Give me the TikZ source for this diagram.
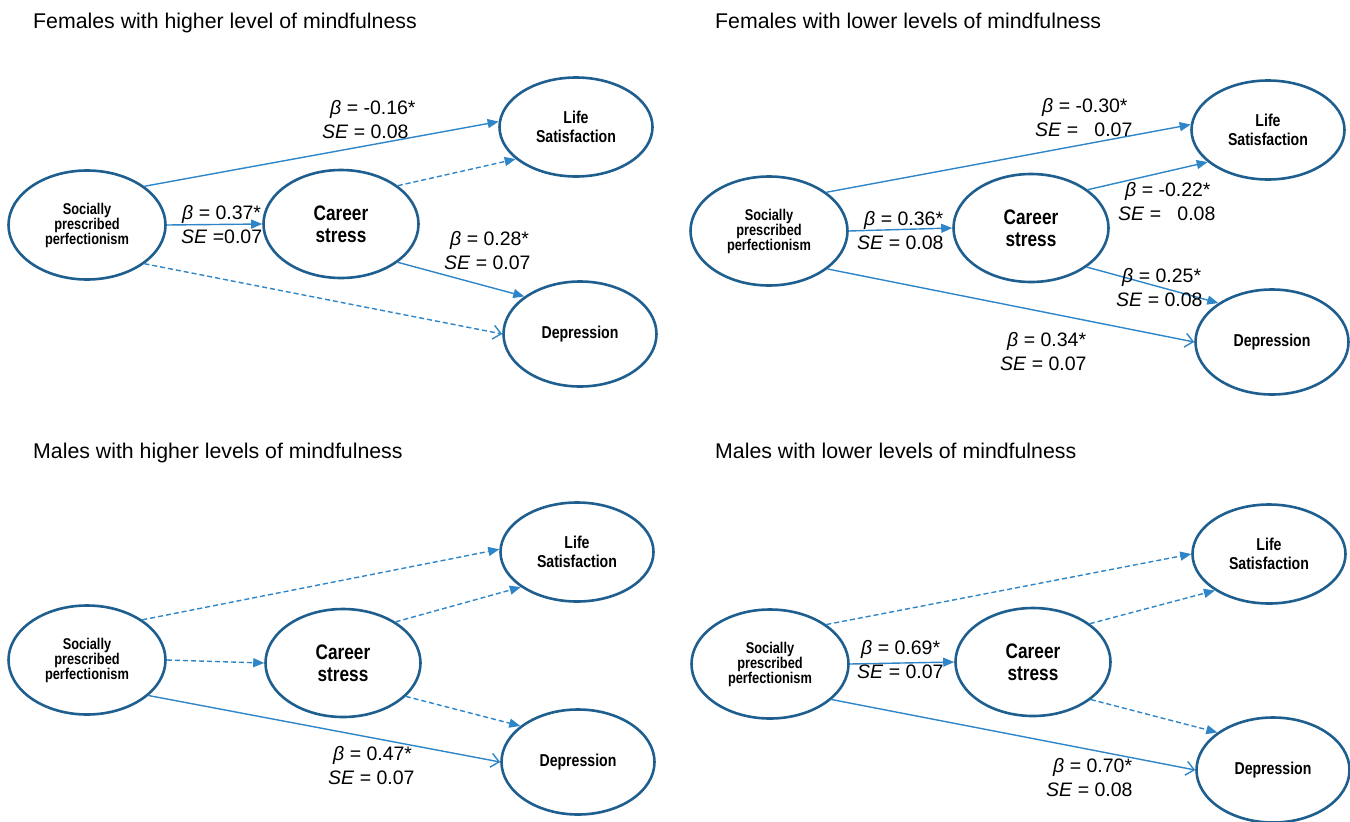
\documentclass[tikz,border=0pt]{standalone}
\usepackage{fontspec}
\setmainfont{Liberation Sans}
\newfontfamily\nf[FakeStretch=0.82]{Liberation Sans}
\usetikzlibrary{shapes.geometric,arrows.meta}
\definecolor{ellc}{HTML}{1F5F8F}
\definecolor{arrc}{HTML}{2E86C8}
\tikzset{
  ell/.style={ellipse, draw=ellc, line width=2.6pt, inner sep=0pt, align=center, text=black},
  sppn/.style={ell, minimum width=157pt, minimum height=109pt, font=\nf\bfseries\fontsize{15.6}{15}\selectfont},
  csn/.style={ell, minimum width=155pt, minimum height=108pt, font=\nf\bfseries\fontsize{21}{22}\selectfont},
  lsn/.style={ell, minimum width=153pt, minimum height=99pt, font=\nf\bfseries\fontsize{17.2}{19}\selectfont},
  depn/.style={ell, minimum width=153pt, minimum height=105pt, font=\nf\bfseries\fontsize{17.2}{19}\selectfont},
  solidarr/.style={draw=arrc, line width=1.4pt, -{Triangle[length=11pt,width=9pt]}},
  dasharr/.style={solidarr, dash pattern=on 5pt off 3pt},
  openarr/.style={draw=arrc, line width=1.4pt, -{Straight Barb[length=8pt,width=14pt]}},
  opendash/.style={openarr, dash pattern=on 5pt off 3pt},
  lab/.style={anchor=west, align=left, font=\fontsize{19.5}{24}\selectfont, inner sep=0pt},
  ttl/.style={anchor=base west, font=\fontsize{21.3}{24}\selectfont, inner sep=0pt}
}
\begin{document}
\begin{tikzpicture}[x=1pt,y=-1pt]
\useasboundingbox (0,0) rectangle (1350,822);
% ---------- Panel 1 ----------
\node[ttl] (t1) at (33,28) {Females with higher level of mindfulness};
\node[sppn] (spp1) at (87,225) {Socially\\prescribed\\perfectionism};
\node[csn] (cs1) at (341,224) {Career\\stress};
\node[lsn] (ls1) at (576,127) {Life\\Satisfaction};
\node[depn] (dep1) at (580,334) {Depression};
\draw[solidarr] (spp1.34) -- (ls1.176);
\draw[dasharr] (cs1.34) -- (ls1.208);
\draw[solidarr] (spp1.east) -- (cs1.west);
\draw[solidarr] (cs1.326) -- (dep1.146);
\draw[opendash] (spp1.326) -- (dep1.180);
\node[lab] (l1a) at (322,120) {\hspace*{8pt}\textit{β} = -0.16*\\\textit{SE} = 0.08};
\node[lab] (l1b) at (181,225) {\hspace*{1pt}\textit{β} = 0.37*\\\textit{SE} =0.07};
\node[lab] (l1c) at (444,251) {\hspace*{6pt}\textit{β} = 0.28*\\\textit{SE} = 0.07};
% ---------- Panel 2 ----------
\node[ttl] (t2) at (715,28) {Females with lower levels of mindfulness};
\node[sppn] (spp2) at (769,231) {Socially\\prescribed\\perfectionism};
\node[csn] (cs2) at (1031,228) {Career\\stress};
\node[lsn] (ls2) at (1268,130) {Life\\Satisfaction};
\node[depn] (dep2) at (1272,342) {Depression};
\draw[solidarr] (spp2.34) -- (ls2.176);
\draw[solidarr] (cs2.34) -- (ls2.208);
\draw[solidarr] (spp2.east) -- (cs2.west);
\draw[solidarr] (cs2.325) -- (dep2.144);
\draw[openarr] (spp2.327) -- (dep2.180);
\node[lab] (l2a) at (1035,118) {\hspace*{7pt}\textit{β} = -0.30*\\\textit{SE} = \ \ 0.07};
\node[lab] (l2b) at (1118,202) {\hspace*{7pt}\textit{β} = -0.22*\\\textit{SE} = \ \ 0.08};
\node[lab] (l2c) at (857,231) {\hspace*{7pt}\textit{β} = 0.36*\\\textit{SE} = 0.08};
\node[lab] (l2d) at (1116,288) {\hspace*{6pt}\textit{β} = 0.25*\\\textit{SE} = 0.08};
\node[lab] (l2e) at (1000,352) {\hspace*{7pt}\textit{β} = 0.34*\\\textit{SE} = 0.07};
% ---------- Panel 3 ----------
\node[ttl] (t3) at (33,458) {Males with higher levels of mindfulness};
\node[sppn] (spp3) at (87,660) {Socially\\prescribed\\perfectionism};
\node[csn] (cs3) at (343,663) {Career\\stress};
\node[lsn] (ls3) at (577,552) {Life\\Satisfaction};
\node[depn] (dep3) at (578,762) {Depression};
\draw[dasharr] (spp3.36) -- (ls3.178);
\draw[dasharr] (cs3.38) -- (ls3.212);
\draw[dasharr] (spp3.east) -- (cs3.west);
\draw[dasharr] (cs3.332) -- (dep3.148);
\draw[openarr] (spp3.330) -- (dep3.180);
\node[lab] (l3a) at (328,766) {\hspace*{5pt}\textit{β} = 0.47*\\\textit{SE} = 0.07};
% ---------- Panel 4 ----------
\node[ttl] (t4) at (715,458) {Males with lower levels of mindfulness};
\node[sppn] (spp4) at (770,664) {Socially\\prescribed\\perfectionism};
\node[csn] (cs4) at (1033,662) {Career\\stress};
\node[lsn] (ls4) at (1269,554) {Life\\Satisfaction};
\node[depn] (dep4) at (1273,770) {Depression};
\draw[dasharr] (spp4.35) -- (ls4.180);
\draw[dasharr] (cs4.34) -- (ls4.214);
\draw[solidarr] (spp4.east) -- (cs4.west);
\draw[dasharr] (cs4.327) -- (dep4.146);
\draw[openarr] (spp4.330) -- (dep4.180);
\node[lab] (l4a) at (857,660) {\hspace*{4pt}\textit{β} = 0.69*\\\textit{SE} = 0.07};
\node[lab] (l4b) at (1046,778) {\hspace*{7pt}\textit{β} = 0.70*\\\textit{SE} = 0.08};
\end{tikzpicture}
\end{document}
